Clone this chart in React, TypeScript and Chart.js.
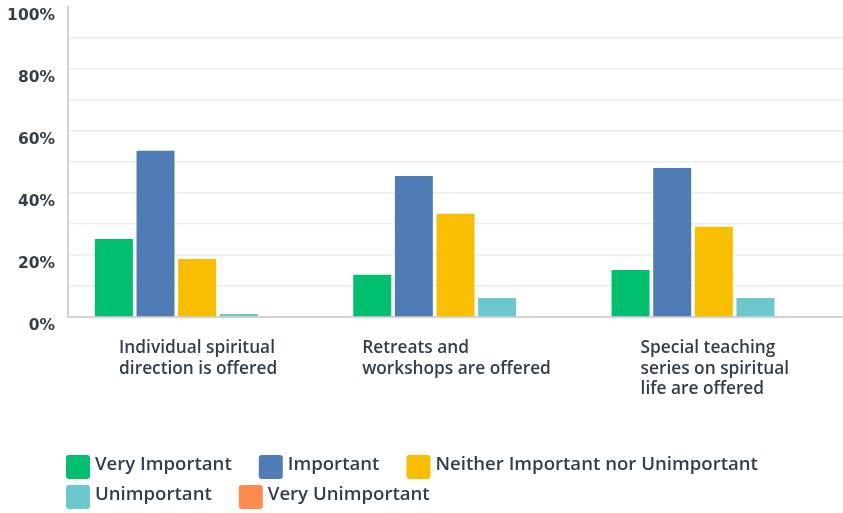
import React, { useEffect, useRef } from 'react';
import { Chart, registerables } from 'chart.js';

Chart.register(...registerables);

const categories: string[][] = [
  ['Individual spiritual', 'direction is offered'],
  ['Retreats and', 'workshops are offered'],
  ['Special teaching', 'series on spiritual', 'life are offered'],
];
const seriesNames = [
  'Very Important',
  'Important',
  'Neither Important nor Unimportant',
  'Unimportant',
  'Very Unimportant',
];
const seriesColors = ['#00bf6f', '#507cb6', '#f9be00', '#6bc8cd', '#ff8b4f'];
const veryImportant = [25.2, 13.6, 15.2];
const important = [53.6, 45.5, 48.1];
const neither = [18.7, 33.3, 29.1];
const unimportant = [1.0, 6.1, 6.1];
const veryUnimportant = [0, 0, 0];
const seriesValues = [veryImportant, important, neither, unimportant, veryUnimportant];
const yMax = 100;
const yStep = 10;
const yLabelEvery = 20;

const TEXT = '#333e48';
const FONT = '"Open Sans", Roboto, sans-serif';

const xLabelPlugin = {
  id: 'xLabels',
  afterDraw(chart: any) {
    const { ctx, scales, chartArea } = chart;
    const xs = scales.x;
    ctx.save();
    ctx.font = `600 17.3px ${FONT}`;
    ctx.fillStyle = TEXT;
    ctx.textAlign = 'left';
    ctx.textBaseline = 'alphabetic';
    categories.forEach((lines, i) => {
      const cx = xs.getPixelForValue(i);
      const w = Math.max(...lines.map((l) => ctx.measureText(l).width));
      const left = cx - w / 2 + 1;
      lines.forEach((l, k) => {
        ctx.fillText(l, left, chartArea.bottom + 36 + k * 20.5);
      });
    });
    ctx.restore();
  },
};

const legendPlugin = {
  id: 'customLegend',
  afterDraw(chart: any) {
    const { ctx } = chart;
    const ds = chart.data.datasets;
    ctx.save();
    ctx.font = `600 18.6px ${FONT}`;
    ctx.textBaseline = 'alphabetic';
    ctx.textAlign = 'left';
    const startX = 66;
    const box = 24;
    const textGap = 5;
    const itemGap = 27;
    const rowH = 30;
    let x = startX;
    let y = 455;
    ds.forEach((d: any) => {
      const tw = ctx.measureText(d.label).width;
      const iw = box + textGap + tw;
      if (x > startX && x + iw > chart.width - 10) {
        x = startX;
        y += rowH;
      }
      ctx.fillStyle = d.backgroundColor;
      ctx.beginPath();
      (ctx as any).roundRect(x, y, box, box, 3);
      ctx.fill();
      ctx.fillStyle = TEXT;
      ctx.fillText(d.label, x + box + textGap, y + 15);
      x += iw + itemGap;
    });
    ctx.restore();
  },
};

export default function App() {
  const ref = useRef<HTMLCanvasElement | null>(null);
  useEffect(() => {
    document.body.style.margin = '0';
    const canvas = ref.current!;
    const chart = new Chart(canvas, {
      type: 'bar',
      data: {
        labels: categories.map((c) => c.join(' ')),
        datasets: seriesNames.map((name, i) => ({
          label: name,
          data: seriesValues[i],
          backgroundColor: seriesColors[i],
          borderWidth: 0,
          categoryPercentage: 0.806,
          barPercentage: 0.912,
        })),
      },
      options: {
        responsive: false,
        animation: false,
        layout: { padding: { left: 0, right: 0, top: 7, bottom: 0 } },
        plugins: {
          legend: { display: false },
          tooltip: { enabled: false },
        },
        scales: {
          x: {
            grid: { display: false },
            border: { display: true, color: '#d3d3d3', width: 2 },
            ticks: { display: false },
            afterFit: (s: any) => {
              s.height = 196;
              s.paddingLeft = 0;
              s.paddingRight = 0;
            },
          },
          y: {
            min: 0,
            max: yMax,
            afterFit: (s: any) => {
              s.width = 68;
              s.paddingTop = 0;
              s.paddingBottom = 0;
            },
            border: { display: true, color: '#d3d3d3', width: 2 },
            grid: {
              drawTicks: false,
              color: (c: any) => (c.tick && c.tick.value === yMax ? 'rgba(0,0,0,0)' : '#ededed'),
              lineWidth: 1.5,
            },
            ticks: {
              stepSize: yStep,
              padding: 13,
              labelOffset: 9,
              color: TEXT,
              font: { family: '"DejaVu Sans", sans-serif', size: 15.5, weight: 'bold' as any },
              callback: (v: any) => (Number(v) % yLabelEvery === 0 ? `${v}%` : ''),
            },
          },
        },
      },
      plugins: [xLabelPlugin, legendPlugin],
    });
    return () => chart.destroy();
  }, []);
  return (
    <div style={{ width: 843, height: 513 }}>
      <canvas ref={ref} width={843} height={513} style={{ display: 'block' }} />
    </div>
  );
}
